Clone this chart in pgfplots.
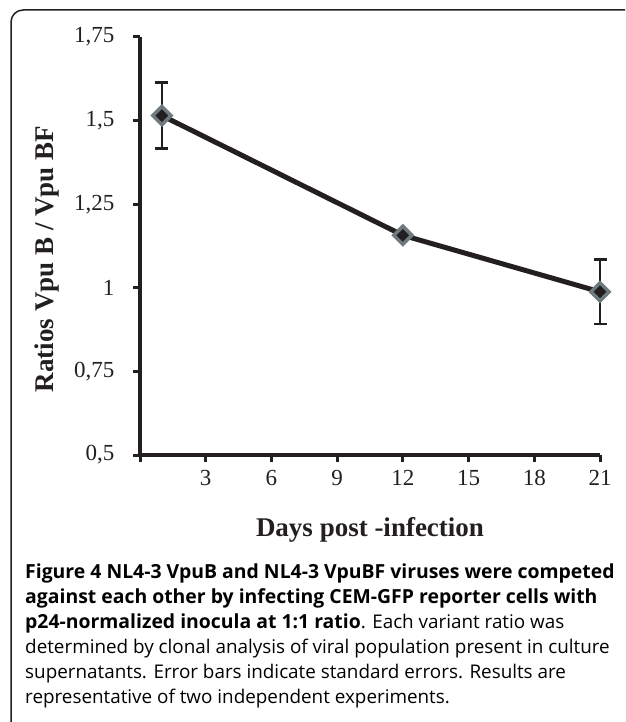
\documentclass[border=0pt]{standalone}
\usepackage{pgfplots}
\pgfplotsset{compat=1.18}
\usepackage{fontspec}
\setmainfont{Liberation Serif}
\newfontfamily\capfont{Open Sans}
\definecolor{lineblk}{HTML}{231F20}
\definecolor{markgray}{HTML}{6F7A7E}
\newcommand\capb{\capfont\fontsize{19.4}{25}\selectfont\bfseries}
\newcommand\capr{\capfont\fontsize{18.85}{25}\selectfont\mdseries}
\begin{document}
\begin{tikzpicture}[x=1pt,y=1pt]
\useasboundingbox (0,0) rectangle (625,-722);
\begin{scope}
\clip (0,0) rectangle (625,-722);
\draw[line width=1.5pt, lineblk, rounded corners=12pt] (11,-760) -- (11,-10) -- (660,-10);
\end{scope}
\begin{axis}[
  at={(140pt,-455pt)}, anchor=south west,
  scale only axis, width=460pt, height=418pt,
  xmin=0, xmax=21, ymin=0.5, ymax=1.75,
  axis lines=left,
  axis line style={-, line width=3.5pt, lineblk},
  xtick={0,3,...,21}, xticklabels={,3,6,9,12,15,18,21},
  ytick={0.5,0.75,1,1.25,1.5,1.75},
  tick align=outside, major tick length=7pt,
  tick style={line width=3pt, lineblk},
  /pgf/number format/.cd, use comma, fixed, assume math mode=true,
  /pgfplots/.cd,
  ticklabel style={font=\fontsize{23}{23}\selectfont, text=lineblk},
  yticklabel style={xshift=-15pt},
  xticklabel style={yshift=-5pt},
  clip=false,
]
\addplot[lineblk, line width=5pt, mark=none, line join=round,
  error bars/.cd, y dir=both, y explicit,
  error bar style={line width=2.5pt, solid},
  error mark options={rotate=90, line width=2.5pt, mark size=6.5pt}]
  coordinates {(1,1.515) +- (0,0.099) (12,1.157) +- (0,0) (21,0.988) +- (0,0.096)};
\addplot[only marks, mark=square*, mark size=6.4pt,
  mark options={rotate=45, fill=lineblk, draw=markgray, line width=3.5pt}]
  coordinates {(1,1.515) (12,1.157) (21,0.988)};
\end{axis}
\node[anchor=base, text=lineblk] at (370,-536) {\fontsize{27}{27}\selectfont\bfseries Days post -infection};
\node[anchor=base, rotate=90, text=lineblk] at (53,-259) {\fontsize{27}{27}\selectfont\bfseries Ratios Vpu B / Vpu BF};
\begin{scope}[every node/.style={anchor=base west, inner sep=0pt, text=black}]
\node at (25,-578) {\capb Figure 4 NL4-3 VpuB and NL4-3 VpuBF viruses were competed};
\node at (25,-603) {\capb against each other by infecting CEM-GFP reporter cells with};
\node at (25,-628) {{\capb p24-normalized inocula at 1:1 ratio}\capr. Each variant ratio was};
\node at (25,-653) {\capr determined by clonal analysis of viral population present in culture};
\node at (25,-678) {\capr supernatants. Error bars indicate standard errors. Results are};
\node at (25,-703) {\capr representative of two independent experiments.};
\end{scope}
\end{tikzpicture}
\end{document}
